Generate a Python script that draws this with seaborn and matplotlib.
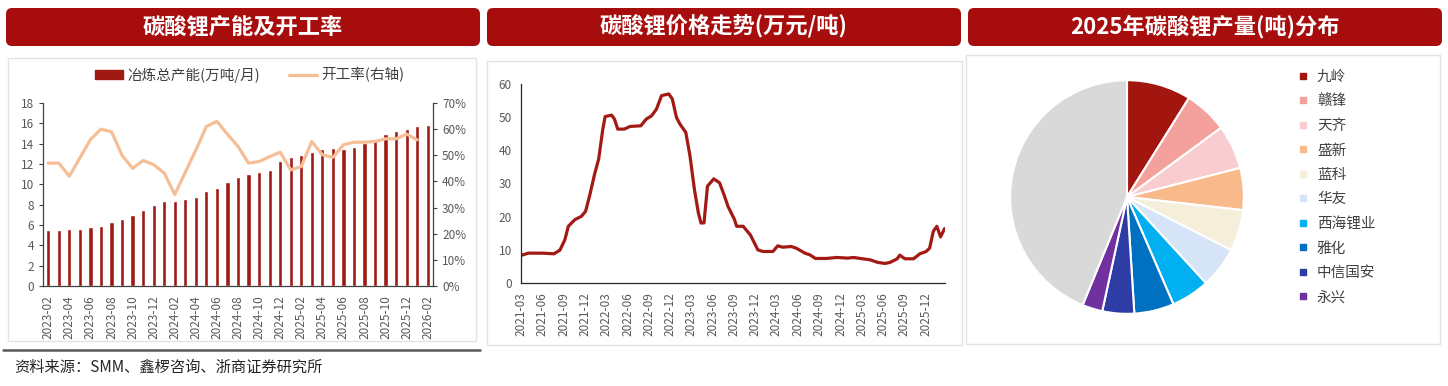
import numpy as np
import pandas as pd
import seaborn as sns
import matplotlib.pyplot as plt
import matplotlib.dates as mdates
from matplotlib.patches import FancyBboxPatch, Rectangle, Patch
from matplotlib.lines import Line2D
from matplotlib.ticker import FuncFormatter
from matplotlib.transforms import IdentityTransform

# =========================
# Data
# =========================
months = pd.period_range('2023-02', '2026-02', freq='M').strftime('%Y-%m').tolist()
capacity = [5.5, 5.5, 5.6, 5.6, 5.8, 5.9, 6.25, 6.6, 7.0, 7.45, 7.95, 8.35, 8.4, 8.6,
            8.8, 9.3, 9.65, 10.2, 10.7, 11.05, 11.25, 11.45, 12.3, 12.7, 12.9, 13.2,
            13.5, 13.55, 13.5, 13.65, 14.1, 14.5, 15.0, 15.2, 15.45, 15.7, 15.8]
rate = [47, 47, 42, 49, 56, 60, 59, 50, 45, 48, 46.4, 43.2, 35, 43.5, 52, 61, 63, 58,
        53.4, 47, 47.6, 49.5, 51.2, 44.4, 45.7, 55.3, 50.2, 49.2, 54, 55, 55, 55.3,
        56.3, 56.3, 58.1, 55.9, np.nan]

price_dates = ['2021-03-01', '2021-04-01', '2021-06-01', '2021-07-20', '2021-08-15',
               '2021-09-05', '2021-09-20', '2021-10-18', '2021-11-15', '2021-12-03',
               '2021-12-20', '2022-01-12', '2022-01-28', '2022-02-15', '2022-02-25',
               '2022-03-25', '2022-04-06', '2022-04-20', '2022-05-18', '2022-06-12',
               '2022-07-28', '2022-08-20', '2022-09-12', '2022-10-03', '2022-10-25',
               '2022-11-25', '2022-12-10', '2022-12-28', '2023-01-12', '2023-02-06',
               '2023-02-24', '2023-03-15', '2023-04-01', '2023-04-12', '2023-04-25',
               '2023-05-10', '2023-06-06', '2023-07-01', '2023-07-22', '2023-08-06',
               '2023-09-03', '2023-09-12', '2023-10-10', '2023-11-10', '2023-12-12',
               '2024-01-03', '2024-02-15', '2024-03-06', '2024-03-28', '2024-05-03',
               '2024-05-25', '2024-07-01', '2024-07-22', '2024-08-15', '2024-10-01',
               '2024-11-15', '2025-01-01', '2025-01-25', '2025-03-06', '2025-04-06',
               '2025-05-10', '2025-06-10', '2025-07-01', '2025-08-01', '2025-08-12',
               '2025-09-03', '2025-10-10', '2025-11-06', '2025-12-03', '2025-12-18',
               '2026-01-03', '2026-01-18', '2026-02-03', '2026-02-20']
price_vals = [8.3, 9.0, 9.0, 8.8, 9.9, 13.0, 17.1, 19.1, 20.1, 21.6,
              26.2, 33.2, 37.3, 46.4, 50.2, 50.6, 49.4, 46.4, 46.4, 47.2,
              47.4, 49.4, 50.4, 52.4, 56.5, 57.0, 55.5, 49.9, 47.9, 45.4,
              38.3, 28.2, 21.1, 18.1, 18.1, 29.2, 31.4, 30.2, 26.2, 23.1,
              19.1, 17.1, 17.1, 14.5, 10.0, 9.5, 9.5, 11.2, 10.8, 11.0,
              10.5, 9.0, 8.5, 7.4, 7.4, 7.7, 7.5, 7.7, 7.3, 7.0,
              6.2, 5.9, 6.2, 7.3, 8.4, 7.3, 7.3, 8.8, 9.5, 10.5,
              15.6, 17.1, 13.9, 16.4]

pie_labels = ['九岭', '赣锋', '天齐', '盛新', '蓝科', '华友', '西海锂业', '雅化', '中信国安', '永兴', '其他']
pie_share = [8.9, 6.0, 6.1, 5.8, 5.7, 5.7, 5.3, 5.5, 4.4, 2.8, 43.8]
pie_colors = ['#A3150F', '#F4A19D', '#F9CDD0', '#F8B98B', '#F4EEDA', '#D6E4F7',
              '#00B0F0', '#0070C0', '#2E3CA6', '#7030A0', '#D9D9D9']

BAR = '#A01A14'
LINE = '#F6BE96'
PRICE = '#A31A14'
TXT = '#595959'
TITLE_RED = '#A80D0D'

# =========================
# Figure
# =========================
sns.set_style('white')
plt.rcParams['font.family'] = ['Noto Sans CJK SC', 'DejaVu Sans']
plt.rcParams['axes.unicode_minus'] = False

W, H = 1448, 386
fig = plt.figure(figsize=(W / 100, H / 100), dpi=100)

# title boxes and panel frames (pixel coords)
for x0, title in [(6, '碳酸锂产能及开工率'), (487, '碳酸锂价格走势(万元/吨)'), (968, '2025年碳酸锂产量(吨)分布')]:
    box = FancyBboxPatch((x0, H - 46), 474, 38, boxstyle='round,pad=0,rounding_size=6',
                         transform=IdentityTransform(), facecolor=TITLE_RED, edgecolor='none')
    fig.add_artist(box)
    fig.text((x0 + 237) / W, 1 - 27 / H, title, color='white', fontsize=16,
             fontweight='bold', ha='center', va='center')

for x0, y0, x1, y1 in [(8, 58, 476, 341), (487, 61, 962, 345), (966, 55, 1440, 344)]:
    fig.add_artist(Rectangle((x0, H - y1), x1 - x0, y1 - y0, transform=IdentityTransform(),
                             fill=False, edgecolor='#E3E3E3', lw=1))

fig.add_artist(Line2D([3 / W, 480 / W], [1 - 350 / H] * 2, color='#595959', lw=1.8))
fig.text(14 / W, 1 - 367 / H, '资料来源：SMM、鑫椤咨询、浙商证券研究所', fontsize=11,
         color='#262626', va='center')

# =========================
# 1. Capacity & utilisation
# =========================
ax1 = fig.add_axes([43 / W, 1 - 286 / H, 390 / W, 183 / H])
sns.barplot(x=months, y=capacity, color=BAR, width=0.4, saturation=1, ax=ax1)
ax1.set_ylim(0, 18)
ax1.set_yticks(range(0, 19, 2))
ax1.set_xlim(-0.5, len(months) - 0.5)
ax1.set_xticks(range(0, len(months), 2))
ax1.set_xticklabels(months[::2], rotation=90)
ax1.set_xlabel('')
ax1.set_ylabel('')

ax1b = ax1.twinx()
sns.lineplot(x=np.arange(len(months)), y=rate, color=LINE, lw=2.3, ax=ax1b)
ax1b.set_ylim(0, 70)
ax1b.set_yticks(range(0, 71, 10))
ax1b.yaxis.set_major_formatter(FuncFormatter(lambda v, p: f'{v:.0f}%'))
ax1b.set_ylabel('')

for a in (ax1, ax1b):
    for s in a.spines.values():
        s.set_visible(False)
    a.tick_params(colors='#404040', labelcolor=TXT, labelsize=8.5, length=3, width=0.8, direction='out')
ax1.spines['left'].set_visible(True)
ax1.spines['bottom'].set_visible(True)
ax1b.spines['right'].set_visible(True)
for s in (ax1.spines['left'], ax1.spines['bottom'], ax1b.spines['right']):
    s.set_color('#404040')
    s.set_linewidth(0.9)

fig.legend([Patch(color=BAR), Line2D([], [], color=LINE, lw=2.3)],
           ['冶炼总产能(万吨/月)', '开工率(右轴)'], loc='center',
           bbox_to_anchor=(250 / W, 1 - 75 / H), ncol=2, frameon=False, fontsize=10.5,
           handlelength=1.9, handleheight=0.6, handletextpad=0.3, columnspacing=2.0,
           labelcolor='#404040')

# =========================
# 2. Price trend
# =========================
ax2 = fig.add_axes([521 / W, 1 - 283 / H, 424 / W, 199 / H])
sns.lineplot(x=pd.to_datetime(price_dates), y=price_vals, color=PRICE, lw=2.3, ax=ax2)
ax2.set_xlim(pd.Timestamp('2021-03-01'), pd.Timestamp('2026-02-22'))
ax2.set_ylim(0, 60)
ax2.set_yticks(range(0, 61, 10))
ax2.set_xlabel('')
ax2.set_ylabel('')
ax2.xaxis.set_major_locator(mdates.MonthLocator(bymonth=[3, 6, 9, 12]))
ax2.xaxis.set_major_formatter(mdates.DateFormatter('%Y-%m'))
plt.setp(ax2.get_xticklabels(), rotation=90)
for s in ('top', 'right'):
    ax2.spines[s].set_visible(False)
for s in ('left', 'bottom'):
    ax2.spines[s].set_color('#262626')
    ax2.spines[s].set_linewidth(0.9)
ax2.tick_params(colors='#404040', labelcolor=TXT, labelsize=8.5, length=3, width=0.8)

# =========================
# 3. Production share pie
# =========================
ax3 = fig.add_axes([(1127 - 118) / W, (H - 197 - 118) / H, 236 / W, 236 / H])
ax3.pie(pie_share, colors=pie_colors, startangle=90, counterclock=False,
        wedgeprops=dict(edgecolor='white', linewidth=1.5))
ax3.set_xlim(-1.01, 1.01)
ax3.set_ylim(-1.01, 1.01)
ax3.set_aspect('equal')

handles = [Line2D([], [], marker='s', ls='none', color=c, markersize=5) for c in pie_colors[:10]]
fig.legend(handles, pie_labels[:10], loc='upper left', bbox_to_anchor=(1298 / W, 1 - 70 / H),
           frameon=False, fontsize=10.5, labelspacing=0.72, handlelength=0.7,
           handletextpad=0.6, borderaxespad=0, borderpad=0, labelcolor='#404040')

fig.savefig('out.png', dpi=100)
